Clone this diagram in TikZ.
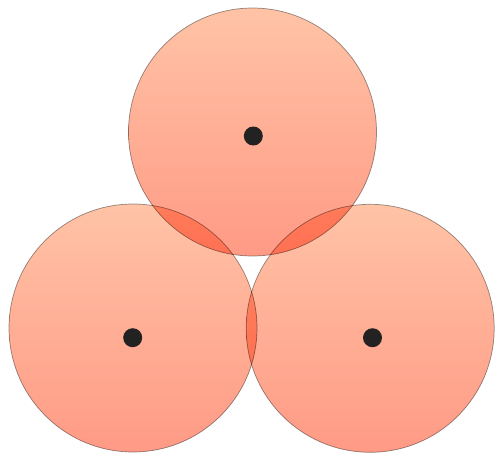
\documentclass[tikz,border=0pt]{standalone}
\begin{document}
\begin{tikzpicture}[x=1pt,y=-1pt]
\definecolor{ctop}{RGB}{255,195,166}
\definecolor{cbot}{RGB}{255,154,133}
\definecolor{cedge}{RGB}{150,150,150}
\definecolor{cdot}{RGB}{34,34,34}
\tikzset{
  ball/.style={circle, draw=cedge, line width=0.7pt, minimum size=248pt, inner sep=0pt,
    top color=ctop, bottom color=cbot},
  centerdot/.style={circle, fill=cdot, minimum size=19pt, inner sep=0pt}
}
\useasboundingbox (0,0) rectangle (503,464);
\begin{scope}[blend mode=multiply]
\node[ball] (top) at (252.5,132) {};
\node[ball] (left) at (133,328) {};
\node[ball] (right) at (370.2,328.3) {};
\end{scope}
\node[centerdot] (dtop) at (253.3,136) {};
\node[centerdot] (dleft) at (132.7,337.7) {};
\node[centerdot] (dright) at (372.5,337.7) {};
\end{tikzpicture}
\end{document}
